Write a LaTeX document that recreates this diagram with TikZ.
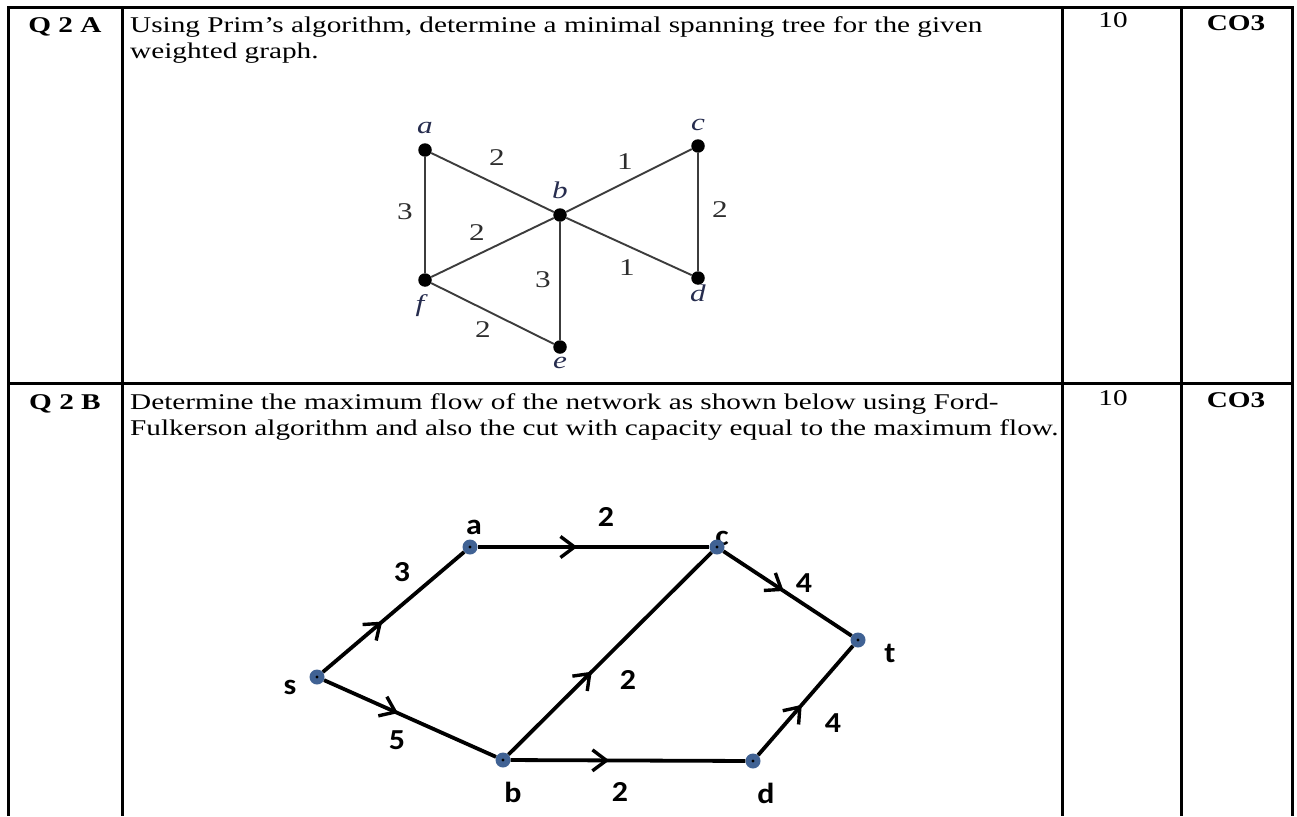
\documentclass[tikz,border=0pt]{standalone}
\usepackage{fontspec}
\setmainfont{Liberation Serif}[FakeStretch=1.3]
\newfontfamily\flowfont{Carlito}[FakeStretch=1.1]
\usetikzlibrary{arrows.meta,decorations.markings}
\definecolor{primedge}{RGB}{60,60,60}
\definecolor{primwc}{RGB}{45,45,45}
\definecolor{primlab}{RGB}{38,44,78}
\definecolor{flowdot}{RGB}{64,98,148}
\tikzset{
  bodytext/.style={anchor=base west,inner sep=0pt,font=\fontsize{22.5}{26}\selectfont},
  cellhead/.style={anchor=base,inner sep=0pt,font=\fontsize{22.5}{26}\selectfont\bfseries},
  cellnum/.style={anchor=base,inner sep=0pt,font=\fontsize{22.5}{26}\selectfont},
  primdot/.style={circle,fill=black,inner sep=0pt,minimum size=13.5pt},
  primname/.style={text=primlab,inner sep=0pt,font=\fontsize{24}{24}\selectfont\itshape},
  primw/.style={text=primwc,inner sep=0pt,font=\fontsize{24}{24}\selectfont},
  flownode/.style={circle,fill=flowdot,inner sep=0pt,minimum size=15pt,
    path picture={\fill[black] (path picture bounding box.center) circle (1.6pt);}},
  flowlab/.style={inner sep=0pt,font=\flowfont\fontsize{29}{29}\selectfont\bfseries},
  flowedge/.style={line width=3.8pt,postaction={decorate},
    decoration={markings,mark=at position #1 with {\arrow{Straight Barb[length=14pt,width=21pt,line width=3.4pt]}}}}
}
\begin{document}
\begin{tikzpicture}[x=1pt,y=-1pt]
\fill[white] (0,0) rectangle (1297,816);
\useasboundingbox (0,0) rectangle (1297,816);
% table rules
\draw[line width=3pt] (8,8) -- (1292,8);
\draw[line width=3pt] (8,383) -- (1292,383);
\foreach \x in {8,122,1062,1181,1292}{
  \draw[line width=3pt] (\x,6.5) -- (\x,816);
}
% row A texts
\node[cellhead] (qa) at (65,33) {Q 2 A};
\node[bodytext] (qaone) at (130,33) {Using Prim’s algorithm, determine a minimal spanning tree for the given};
\node[bodytext] (qatwo) at (130,59) {weighted graph.};
\node[cellnum] (marka) at (1113,28) {10};
\node[cellhead] (coa) at (1236,31) {CO3};
% row B texts
\node[cellhead] (qb) at (65,409) {Q 2 B};
\node[bodytext] (qbone) at (130,409) {Determine the maximum flow of the network as shown below using Ford-};
\node[bodytext] (qbtwo) at (130,435) {Fulkerson algorithm and also the cut with capacity equal to the maximum flow.};
\node[cellnum] (markb) at (1113,405) {10};
\node[cellhead] (cob) at (1236,407) {CO3};
% weighted graph for Prim
\foreach \n/\x/\y in {a/425/150,c/698/146,b/560/215,f/425/280,d/698/278,e/560/347}{
  \node[primdot] (p\n) at (\x,\y) {};
}
\foreach \u/\v in {a/b,b/c,a/f,c/d,f/b,b/d,b/e,f/e}{
  \draw[primedge,line width=1.9pt] (p\u) -- (p\v);
}
\foreach \n/\x/\y in {a/425/128,c/698/125,b/560/190,f/420/306,d/698/293,e/560/363}{
  \node[primname] (l\n) at (\x,\y) {\n};
}
\foreach \w/\x/\y [count=\i] in {2/497/158,1/625/162,3/405/212,2/720/210,2/477/233,3/543/280,1/627/268,2/483/330}{
  \node[primw] (pw\i) at (\x,\y) {\w};
}
% flow network
\node[flowlab] (fc) at (722,538) {c};
\foreach \n/\x/\y in {s/317/677,a/470/547,c/717/547,t/858/640,b/503/760,d/753/761}{
  \node[flownode] (f\n) at (\x,\y) {};
}
\draw[flowedge=0.42] (fs) -- (fa);
\draw[flowedge=0.43] (fs) -- (fb);
\draw[flowedge=0.43] (fa) -- (fc);
\draw[flowedge=0.41] (fb) -- (fc);
\draw[flowedge=0.42] (fb) -- (fd);
\draw[flowedge=0.47] (fc) -- (ft);
\draw[flowedge=0.46] (fd) -- (ft);
\node[flowlab] (fla) at (474,527) {a};
\node[flowlab] (fls) at (290,687) {s};
\node[flowlab] (flt) at (890,653) {t};
\node[flowlab] (flb) at (513,792) {b};
\node[flowlab] (fld) at (766,793) {d};
\foreach \w/\x/\y [count=\i] in {3/402/572,5/397/740,2/606/517,2/628/680,2/620/792,4/804/583,4/833/723}{
  \node[flowlab] (fw\i) at (\x,\y) {\w};
}
\end{tikzpicture}
\end{document}
